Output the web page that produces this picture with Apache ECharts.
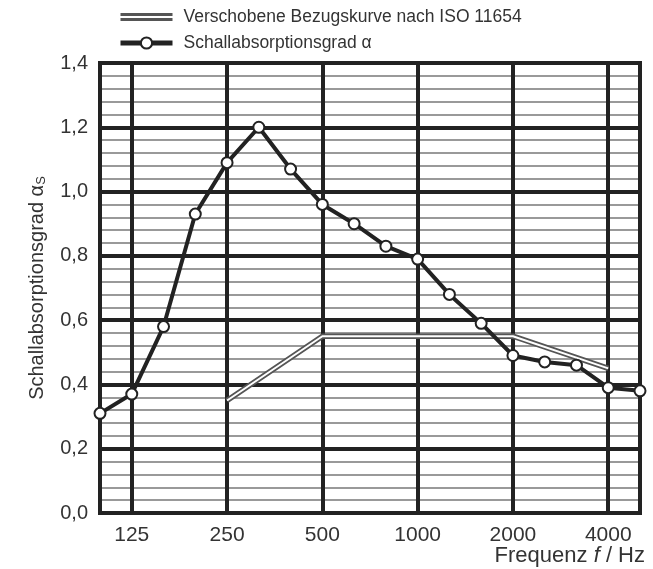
<!DOCTYPE html>
<html>
<head>
<meta charset="utf-8">
<script src="https://cdn.jsdelivr.net/npm/echarts@6/dist/echarts.min.js"></script>
<style>
  html, body { margin: 0; padding: 0; background: #fff; }
  #chart { width: 653px; height: 569px; }
</style>
</head>
<body>
<div id="chart"></div>
<script>
// third-octave bands 100 Hz .. 5000 Hz
var bands = ["100", "125", "160", "200", "250", "315", "400", "500", "630", "800",
  "1000", "1250", "1600", "2000", "2500", "3150", "4000", "5000"];
var octaveLabels = ["125", "250", "500", "1000", "2000", "4000"];
var gridBands = ["100", "125", "250", "500", "1000", "2000", "4000", "5000"];

// measured sound absorption coefficient
var alphaValues = [0.31, 0.37, 0.58, 0.93, 1.09, 1.20, 1.07, 0.96, 0.90, 0.83,
  0.79, 0.68, 0.59, 0.49, 0.47, 0.46, 0.39, 0.38];

// shifted reference curve (only at octave bands)
var refValues = [null, null, null, null, 0.35, null, null, 0.55, null, null,
  0.55, null, null, 0.55, null, null, 0.45, null];

var yTicks = [0, 1.4, 0.2];

var chart = echarts.init(document.getElementById("chart"));
var font = "Liberation Sans, Arial, sans-serif";

function commaFmt(v) {
  return v.toFixed(1).replace(".", ",");
}

chart.setOption({
  animation: false,
  textStyle: { fontFamily: font },
  grid: {
    left: 100, right: 13, top: 63, bottom: 56,
    show: true, borderColor: "#222", borderWidth: 4, z: 5
  },
  legend: {
    orient: "vertical",
    left: 113, top: 3,
    itemWidth: 52, itemHeight: 14, itemGap: 8,
    textStyle: { fontSize: 17.5, color: "#333", fontFamily: font, padding: [0, 0, 0, 6] },
    data: [
      {
        name: "Verschobene Bezugskurve nach ISO 11654",
        icon: "path://M0,0H52V3H0Z M0,5H52V8H0Z",
        itemStyle: { color: "#555" }
      },
      {
        name: "Schallabsorptionsgrad α",
        lineStyle: { width: 5, color: "#222" }
      }
    ]
  },
  xAxis: [
    {
      type: "category",
      data: bands,
      boundaryGap: false,
      axisLine: { show: false },
      axisTick: { show: false },
      axisLabel: {
        interval: function (i, v) { return octaveLabels.indexOf(v) >= 0; },
        fontSize: 21, color: "#333", margin: 12
      },
      splitLine: { show: true, lineStyle: { color: "#999", width: 2 } }
    },
    {
      type: "category",
      data: bands,
      boundaryGap: false,
      position: "bottom",
      axisLine: { show: false },
      axisTick: { show: false },
      axisLabel: { show: false },
      splitLine: {
        show: true,
        interval: function (i, v) { return gridBands.indexOf(v) >= 0; },
        lineStyle: { color: "#222", width: 4 }
      }
    }
  ],
  yAxis: {
    type: "value",
    min: yTicks[0], max: yTicks[1], interval: yTicks[2],
    axisLine: { show: false },
    axisTick: { show: false },
    axisLabel: { formatter: commaFmt, fontSize: 20, color: "#333", margin: 12 },
    splitLine: { show: true, lineStyle: { color: "#222", width: 4 } },
    minorTick: { show: false, splitNumber: 5 },
    minorSplitLine: { show: true, lineStyle: { color: "#999", width: 2 } },
    name: "Schallabsorptionsgrad {a|α}{s|S}",
    nameLocation: "middle",
    nameGap: 52,
    nameTextStyle: {
      fontSize: 20, color: "#333",
      rich: {
        a: { fontSize: 20, color: "#333" },
        s: { fontSize: 13, color: "#333", verticalAlign: "bottom", padding: [8, 0, 0, 0] }
      }
    }
  },
  graphic: [
    {
      type: "text",
      right: 8, top: 545,
      style: {
        text: "Frequenz {i|f} / Hz",
        fontSize: 22, fill: "#333", fontFamily: font,
        rich: { i: { fontSize: 22, fontStyle: "italic", fill: "#333", fontFamily: font } }
      }
    }
  ],
  series: [
    {
      name: "Verschobene Bezugskurve nach ISO 11654",
      type: "line",
      data: refValues,
      connectNulls: true,
      symbol: "none",
      lineStyle: { color: "#555", width: 5.5 },
      itemStyle: { color: "#555" },
      z: 6
    },
    {
      name: "refInner",
      type: "line",
      data: refValues,
      connectNulls: true,
      symbol: "none",
      lineStyle: { color: "#fff", width: 2 },
      z: 7
    },
    {
      name: "Schallabsorptionsgrad α",
      type: "line",
      data: alphaValues,
      symbol: "circle",
      symbolSize: 11,
      lineStyle: { color: "#222", width: 4 },
      itemStyle: { color: "#fff", borderColor: "#222", borderWidth: 2 },
      z: 8
    }
  ]
});
</script>
</body>
</html>
